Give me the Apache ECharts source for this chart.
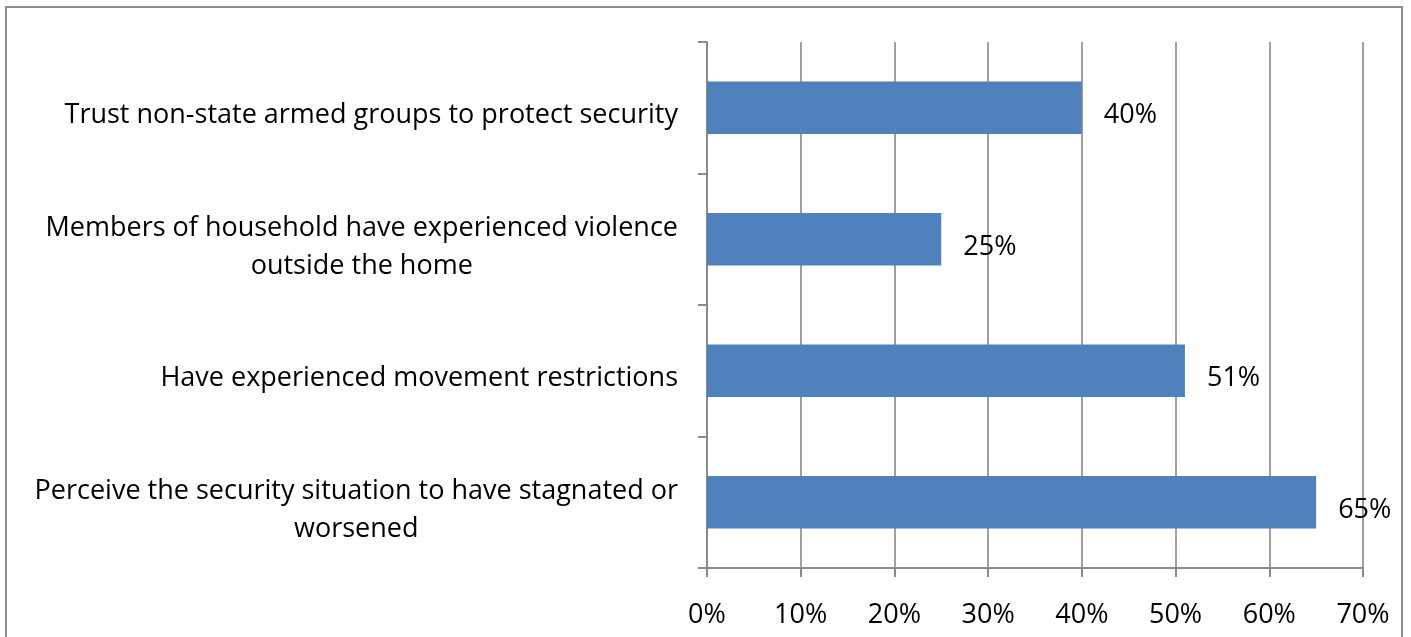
<!DOCTYPE html>
<html>
<head>
<meta charset="utf-8">
<script src="https://cdn.jsdelivr.net/npm/echarts@6/dist/echarts.min.js"></script>
<style>
  html, body { margin: 0; padding: 0; background: #fff; }
  #frame { position: absolute; left: 5px; top: 6px; width: 1398px; height: 700px; border: 2px solid #8f8f8f; box-sizing: border-box; }
  #chart { position: absolute; left: 0; top: 0; width: 1411px; height: 637px; }
</style>
</head>
<body>
<div id="frame"></div>
<div id="chart"></div>
<script>
const categories = [
  "Trust non-state armed groups to protect security",
  "Members of household have experienced violence\noutside the home",
  "Have experienced movement restrictions",
  "Perceive the security situation to have stagnated or\nworsened"
]
const values = [40, 25, 51, 65]
const tickValues = [0, 10, 20, 30, 40, 50, 60, 70]

const font = "Open Sans"
const chart = echarts.init(document.getElementById("chart"))

chart.setOption({
  animation: false,
  grid: { left: 707, right: 48, top: 42, bottom: 69 },
  xAxis: {
    type: "value",
    min: tickValues[0],
    max: tickValues[tickValues.length - 1],
    interval: 10,
    axisLine: { show: true, lineStyle: { color: "#8a8a8a", width: 2 } },
    axisTick: { show: true, length: 9, lineStyle: { color: "#8a8a8a", width: 2 } },
    splitLine: { show: true, lineStyle: { color: "#a0a0a0", width: 2 } },
    axisLabel: {
      margin: 34,
      fontFamily: font,
      fontSize: 27,
      color: "#000",
      formatter: (v) => v + "%"
    }
  },
  yAxis: {
    type: "category",
    inverse: true,
    data: categories,
    axisLine: { show: true, lineStyle: { color: "#8a8a8a", width: 2 } },
    axisTick: { show: true, length: 9, lineStyle: { color: "#8a8a8a", width: 2 } },
    axisLabel: {
      margin: 29,
      fontFamily: font,
      fontSize: 27,
      color: "#000",
      lineHeight: 38,
      padding: [16, 0, 0, 0],
      formatter: (v) => v.split("\n").map((s) => "{c|" + s + "}").join("\n"),
      rich: {
        c: { align: "center", fontFamily: font, fontSize: 27, lineHeight: 38, color: "#000" }
      }
    }
  },
  series: [
    {
      type: "bar",
      data: values,
      barCategoryGap: "60%",
      itemStyle: { color: "#4f81bd" },
      label: {
        show: true,
        position: "right",
        distance: 22,
        offset: [0, 8],
        fontFamily: font,
        fontSize: 27,
        color: "#000",
        formatter: (p) => p.value + "%"
      }
    }
  ]
})
</script>
</body>
</html>
